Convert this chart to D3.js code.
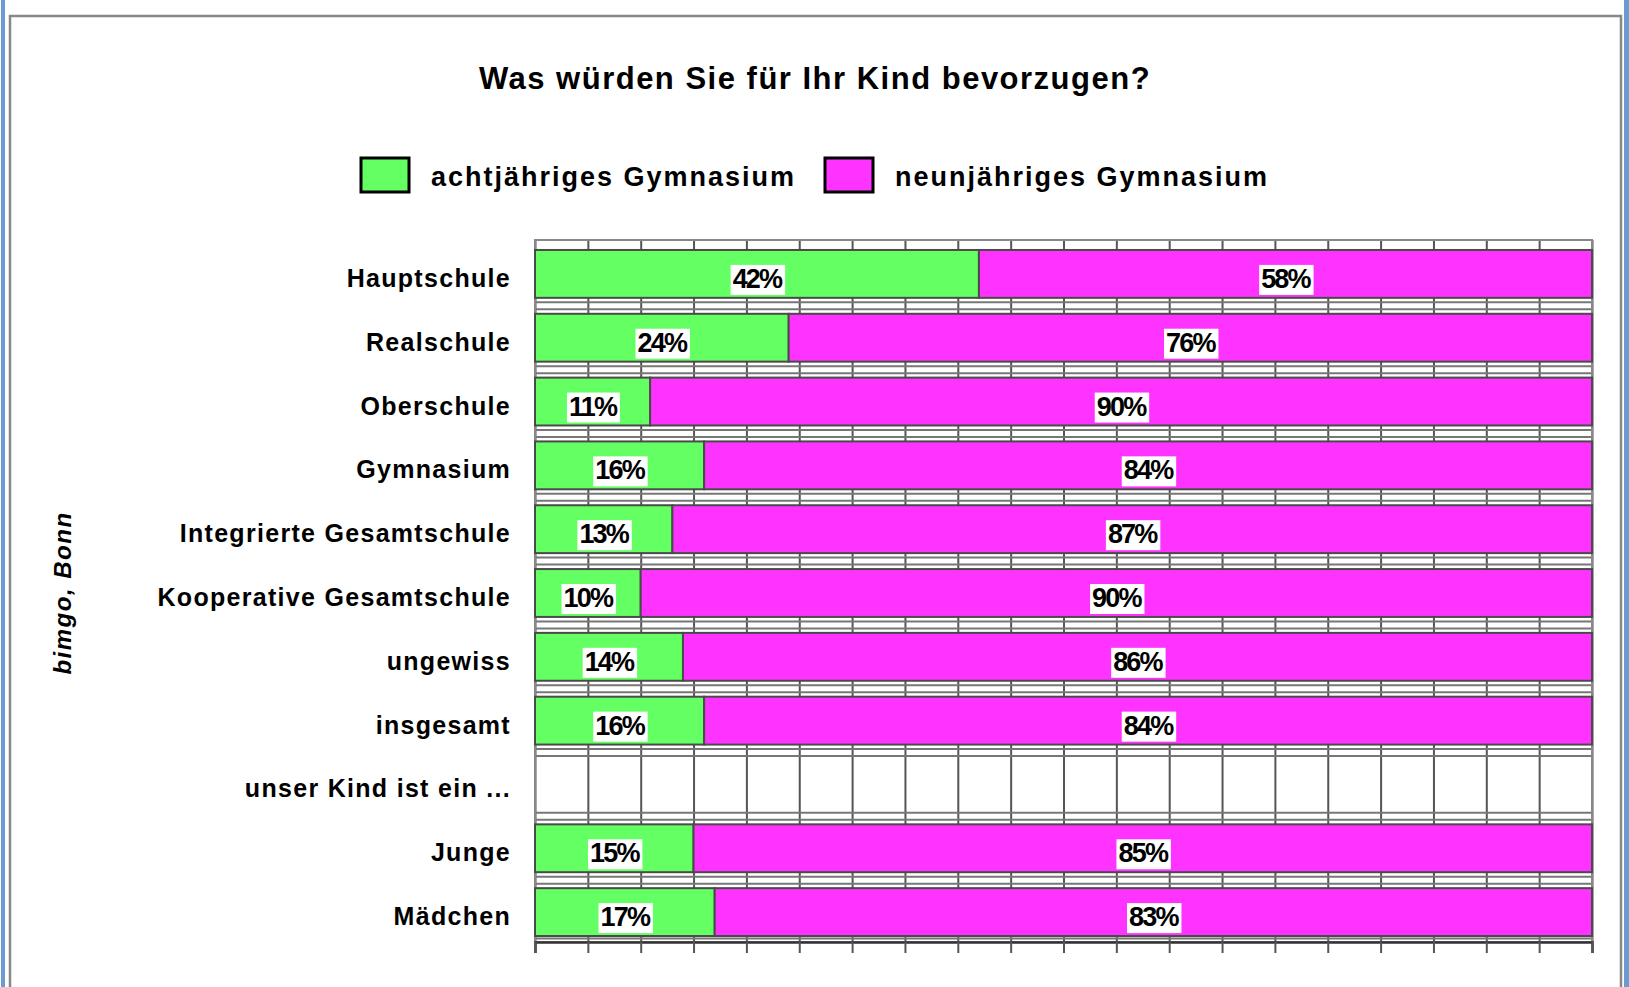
<!DOCTYPE html>
<html>
<head>
    <meta charset="utf-8">
    <title>Was würden Sie für Ihr Kind bevorzugen?</title>
    <script src="https://d3js.org/d3.v7.min.js"></script>
    <style>
        body { margin: 0; background: #fff; }
        text { font-family: "Liberation Sans", Arial, sans-serif; font-weight: bold; fill: #000; }
    </style>
</head>
<body>
    <div id="chart"></div>

    <script>
        const categories = ["Hauptschule", "Realschule", "Oberschule", "Gymnasium", "Integrierte Gesamtschule",
            "Kooperative Gesamtschule", "ungewiss", "insgesamt", "unser Kind ist ein ...", "Junge", "Mädchen"];
        const achtjaehrig = [42, 24, 11, 16, 13, 10, 14, 16, null, 15, 17];
        const neunjaehrig = [58, 76, 90, 84, 87, 90, 86, 84, null, 85, 83];
        const seriesNames = ["achtjähriges Gymnasium", "neunjähriges Gymnasium"];
        const colors = ["#63ff63", "#ff33ff"];
        const title = "Was würden Sie für Ihr Kind bevorzugen?";
        const source = "bimgo, Bonn";

        const W = 1629, H = 987;
        const plot = {left: 535, right: 1592, top: 240, bottom: 942};

        const svg = d3.select("#chart").append("svg")
            .attr("width", W)
            .attr("height", H);

        // frame of the screenshot
        svg.append("rect").attr("x", 1).attr("y", 0).attr("width", 4).attr("height", H).attr("fill", "#6b9bd1");
        svg.append("rect").attr("x", 1624).attr("y", 0).attr("width", 5).attr("height", H).attr("fill", "#6b9bd1");
        svg.append("path")
            .attr("d", `M10,${H} V16 H1621 V${H}`)
            .attr("fill", "none").attr("stroke", "#888").attr("stroke-width", 2.5);

        const data = categories.map((c, i) => ({cat: c, a: achtjaehrig[i], b: neunjaehrig[i]}));

        const stack = d3.stack().keys(["a", "b"]).offset(d3.stackOffsetExpand)
            .value((d, k) => d[k] || 0);
        const stacked = stack(data);

        const x = d3.scaleLinear().domain([0, 1]).range([plot.left, plot.right]);
        const y = d3.scaleBand().domain(categories)
            .range([242, 944])
            .paddingInner(0.25)
            .paddingOuter(0.125);

        const tickVals = d3.range(0, 21).map(i => i / 20);

        // vertical grid lines
        svg.append("g")
            .attr("transform", `translate(0,${plot.bottom})`)
            .call(d3.axisBottom(x).tickValues(tickVals).tickSize(-(plot.bottom - plot.top)).tickFormat(""))
            .call(g => g.select(".domain").remove())
            .call(g => g.selectAll("line").attr("stroke", "#555").attr("stroke-width", 2));

        // horizontal double lines between the rows
        const boundaries = categories.slice(1).map(c => y(c) - y.step() * y.paddingInner() / 2);
        const hg = svg.append("g");
        boundaries.forEach(b => {
            [-3.5, 3.5].forEach(o => {
                hg.append("line")
                    .attr("x1", plot.left).attr("x2", plot.right)
                    .attr("y1", b + o).attr("y2", b + o)
                    .attr("stroke", "#777").attr("stroke-width", 2);
            });
        });
        hg.append("line").attr("x1", plot.left).attr("x2", plot.right)
            .attr("y1", 938.5).attr("y2", 938.5).attr("stroke", "#777").attr("stroke-width", 2);

        // plot frame
        svg.append("rect")
            .attr("x", plot.left).attr("y", plot.top)
            .attr("width", plot.right - plot.left).attr("height", plot.bottom - plot.top)
            .attr("fill", "none").attr("stroke", "#888").attr("stroke-width", 2);

        // bars
        svg.append("g")
            .selectAll("g")
            .data(stacked)
            .join("g")
              .attr("fill", (d, i) => colors[i])
            .selectAll("rect")
            .data(d => d.filter(p => p.data.a != null))
            .join("rect")
              .attr("x", d => x(d[0]))
              .attr("y", d => y(d.data.cat))
              .attr("width", d => x(d[1]) - x(d[0]))
              .attr("height", y.bandwidth())
              .attr("stroke", "#4a4a4a")
              .attr("stroke-width", 2);

        // bottom axis with ticks
        svg.append("g")
            .attr("transform", `translate(0,${plot.bottom})`)
            .call(d3.axisBottom(x).tickValues(tickVals).tickSize(11).tickFormat(""))
            .call(g => g.select(".domain").attr("stroke", "#333").attr("stroke-width", 2.5))
            .call(g => g.selectAll(".tick line").attr("stroke", "#555").attr("stroke-width", 2));

        // value labels
        const labels = svg.append("g");
        stacked.forEach((s, si) => {
            s.filter(p => p.data.a != null).forEach(p => {
                const v = si === 0 ? p.data.a : p.data.b;
                const g = labels.append("g");
                const t = g.append("text")
                    .attr("x", x((p[0] + p[1]) / 2))
                    .attr("y", y(p.data.cat) + y.bandwidth() / 2 + 14)
                    .attr("text-anchor", "middle")
                    .attr("font-size", 27)
                    .attr("letter-spacing", -1.8)
                    .text(v + "%");
                const bb = t.node().getBBox();
                g.insert("rect", "text")
                    .attr("x", bb.x - 2).attr("y", bb.y + 1)
                    .attr("width", bb.width + 4).attr("height", bb.height)
                    .attr("fill", "#fff");
            });
        });

        // category labels
        svg.append("g")
            .selectAll("text")
            .data(categories)
            .join("text")
              .attr("x", 511)
              .attr("y", d => y(d) + y.bandwidth() / 2 + 13)
              .attr("text-anchor", "end")
              .attr("font-size", 25)
              .attr("letter-spacing", 1.3)
              .text(d => d);

        // title
        svg.append("text")
            .attr("x", 815).attr("y", 89)
            .attr("text-anchor", "middle")
            .attr("font-size", 31)
            .attr("letter-spacing", 1.5)
            .text(title);

        // legend
        const legendX = [361, 825];
        seriesNames.forEach((name, i) => {
            svg.append("rect")
                .attr("x", legendX[i]).attr("y", 158)
                .attr("width", 48).attr("height", 34)
                .attr("fill", colors[i])
                .attr("stroke", "#000").attr("stroke-width", 3);
            svg.append("text")
                .attr("x", legendX[i] + 70).attr("y", 186)
                .attr("font-size", 27)
                .attr("letter-spacing", 2)
                .text(name);
        });

        // source, rotated
        svg.append("text")
            .attr("transform", "translate(71,593) rotate(-90)")
            .attr("text-anchor", "middle")
            .attr("font-size", 24)
            .attr("font-style", "italic")
            .attr("letter-spacing", 1.5)
            .text(source);
    </script>
</body>
</html>
